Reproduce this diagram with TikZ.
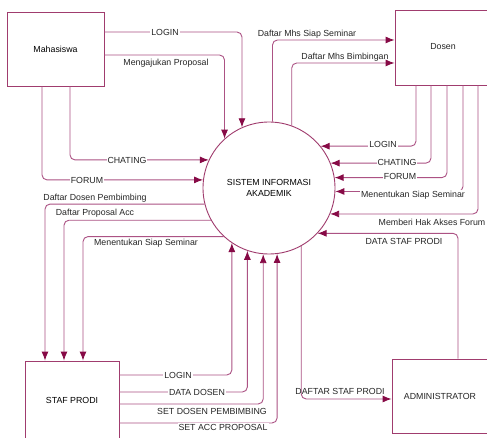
\documentclass[tikz,border=0pt]{standalone}
\usepackage{fontspec}
\setmainfont{Liberation Sans}
\usetikzlibrary{arrows.meta}
\definecolor{linec}{RGB}{172,82,132}
\definecolor{boxc}{RGB}{160,60,110}
\definecolor{tipc}{RGB}{135,10,70}
\tikzset{
  entity/.style={draw=boxc, line width=0.9pt, rectangle, inner sep=0pt, font=\fontsize{8.8}{10.5}\selectfont},
  proc/.style={draw=boxc, line width=0.9pt, circle, inner sep=0pt, minimum size=132pt, align=center, font=\fontsize{8.8}{11}\selectfont},
  flow/.style={draw=linec, line width=0.9pt, rounded corners=5pt, -{Latex[length=9pt,width=7pt,color=tipc,fill=tipc]}},
  lbl/.style={font=\fontsize{8.8}{10.5}\selectfont, inner sep=1pt, text=black!85},
  lblw/.style={lbl, fill=white}
}
\begin{document}
\begin{tikzpicture}[x=1pt,y=-1pt]
\useasboundingbox (0,0) rectangle (487,438);
\fill[white] (0,0) rectangle (487,438);
% entities
\node[entity, minimum width=97pt, minimum height=74pt] (mah) at (55.5,49) {Mahasiswa};
\node[entity, minimum width=100pt, minimum height=75pt] (dos) at (445,47.5) {};
\node[lbl] (dost) at (443,47) {Dosen};
\node[entity, minimum width=94pt, minimum height=78pt] (staf) at (72,400) {STAF PRODI};
\node[entity, minimum width=103pt, minimum height=74pt] (adm) at (443.5,396) {};
\node[lbl] (admt) at (440,396) {ADMINISTRATOR};
\node[proc] (sia) at (269,188) {SISTEM INFORMASI\\AKADEMIK};
% Mahasiswa flows
\draw[flow] (mah.east |- 0,32) -| (sia.114);
\node[lblw] (l1) at (165,32) {LOGIN};
\draw[flow] (mah.east |- 0,55) -| (sia.132);
\node[lbl] (l2) at (166,63) {Mengajukan Proposal};
\draw[flow] (mah.south -| 70,0) |- (sia.155);
\node[lblw] (l3) at (127,160) {CHATING};
\draw[flow] (mah.south -| 42,0) |- (sia.173);
\node[lblw] (l4) at (87,180) {FORUM};
% Dosen flows
\draw[flow] (sia.87) |- (dos.west |- 0,40);
\node[lbl] (l5) at (307,34) {Daftar Mhs Siap Seminar};
\draw[flow] (sia.70) |- (dos.west |- 0,63);
\node[lbl] (l6) at (345,57) {Daftar Mhs Bimbingan};
\draw[flow] (dos.south -| 416,0) |- (sia.39.5);
\node[lblw] (l7) at (383,144.5) {LOGIN};
\draw[flow] (dos.south -| 431,0) |- (sia.22.3);
\node[lblw] (l8) at (397,162) {CHATING};
\draw[flow] (dos.south -| 447,0) |- (sia.9.6);
\node[lblw] (l9) at (400,176.5) {FORUM};
\draw[flow] (dos.south -| 463,0) |- (sia.-3.5);
\node[lblw] (l10) at (413,195.5) {Menentukan Siap Seminar};
\draw[flow] (dos.south -| 478,0) |- (sia.-23.2);
\node[lbl] (l11) at (432,222) {Memberi Hak Akses Forum};
% Administrator flows
\draw[flow] (adm.north -| 458,0) |- (sia.-43);
\node[lbl] (l12) at (404,241) {DATA STAF PRODI};
\draw[flow] (sia.-61) |- (adm.west |- 0,399);
\node[lbl] (l13) at (340,391) {DAFTAR STAF PRODI};
% Staf Prodi flows
\draw[flow] (sia.194.9) -| (staf.north -| 45,0);
\node[lbl] (l14) at (95,198) {Daftar Dosen Pembimbing};
\draw[flow] (sia.209) -| (staf.north -| 64,0);
\node[lbl] (l15) at (95,213) {Daftar Proposal Acc};
\draw[flow] (sia.227.9) -| (staf.north -| 83,0);
\node[lbl] (l16) at (146,243) {Menentukan Siap Seminar};
\draw[flow] (staf.east |- 0,375) -| (sia.236.9);
\node[lblw] (l17) at (178,375) {LOGIN};
\draw[flow] (staf.east |- 0,392) -| (sia.251.5);
\node[lblw] (l18) at (197,392) {DATA DOSEN};
\draw[flow] (staf.east |- 0,404) -| (sia.265.2);
\node[lbl] (l19) at (212,411) {SET DOSEN PEMBIMBING};
\draw[flow] (staf.east |- 0,423) -| (sia.277.8);
\node[lblw] (l20) at (223,427) {SET ACC PROPOSAL};
\end{tikzpicture}
\end{document}
